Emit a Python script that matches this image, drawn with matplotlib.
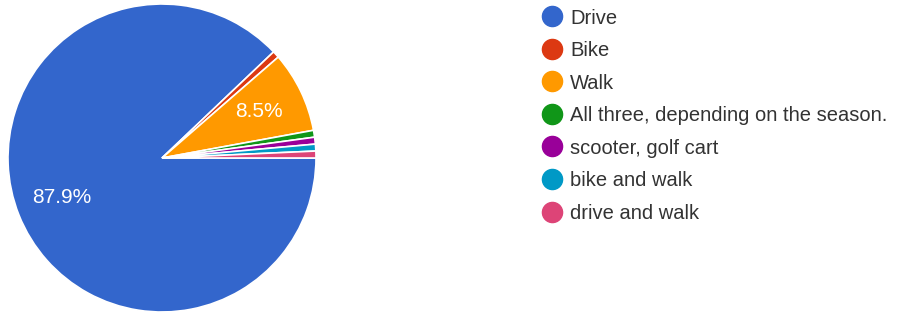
import matplotlib.pyplot as plt

# survey answers (percent of responses)
labels = ['Drive', 'Bike', 'Walk', 'All three, depending on the season.',
          'scooter, golf cart', 'bike and walk', 'drive and walk']
shares = [87.9, 0.72, 8.5, 0.72, 0.72, 0.72, 0.72]
colors = ['#3366cc', '#dc3912', '#ff9900', '#109618', '#990099', '#0099c6', '#dd4477']

W, H = 898, 314
fig = plt.figure(figsize=(W / 100, H / 100), dpi=100)
plt.rcParams['font.family'] = ['Liberation Sans', 'DejaVu Sans']

# pie
cx, cy, r = 162, 158, 154
ax = fig.add_axes([(cx - r) / W, (H - cy - r) / H, 2 * r / W, 2 * r / H])
wedges, texts, autotexts = ax.pie(
    shares, colors=colors, startangle=0, counterclock=False,
    autopct=lambda p: f'{p:.1f}%' if p > 5 else '', pctdistance=0.7,
    wedgeprops=dict(edgecolor='white', linewidth=1.2),
    textprops=dict(color='white', fontsize=15))
ax.set_xlim(-1, 1)
ax.set_ylim(-1, 1)
ax.set_aspect('equal')

# legend drawn by hand
lx, ly, step = 552, 16, 32.6
for i, (lab, col) in enumerate(zip(labels, colors)):
    y = 1 - (ly + i * step) / H
    fig.lines.append(plt.Line2D([lx / W], [y], marker='o', markersize=14.5,
                                color=col, transform=fig.transFigure))
    fig.text((lx + 18) / W, y, lab, fontsize=14.5, color='#333333',
             va='center_baseline')

fig.savefig('out.png', dpi=100)
